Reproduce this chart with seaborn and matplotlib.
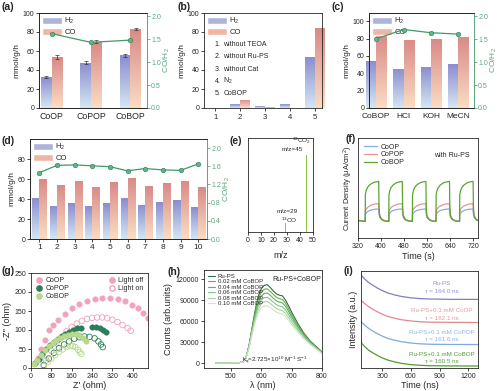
import numpy as np
import pandas as pd
import matplotlib
matplotlib.use("Agg")
import matplotlib.pyplot as plt
from matplotlib.colors import LinearSegmentedColormap
from matplotlib.patches import Patch
from matplotlib.lines import Line2D
import seaborn as sns

# ---------------- data ----------------
# (a) catalysts
cat_a = ["CoOP", "CoPOP", "CoBOP"]
h2_a = [32.4, 47.7, 55.7]
co_a = [53.3, 69.7, 83.0]
h2_err_a = [1.0, 1.6, 1.6]
co_err_a = [2.0, 1.5, 1.0]
ratio_a = [1.62, 1.43, 1.48]

# (b) control experiments
cat_b = ["1", "2", "3", "4", "5"]
h2_b = [0.0, 3.9, 1.8, 3.9, 53.7]
co_b = [0.0, 8.8, 0.7, 0.0, 83.9]
cond_b = ["without TEOA", "without Ru-PS", "without Cat", "N$_2$", "CoBOP"]

# (c) additives
cat_c = ["CoBOP", "HCl", "KOH", "MeCN"]
h2_c = [54.4, 45.2, 47.8, 50.6]
co_c = [84.3, 78.5, 79.3, 82.3]
ratio_c = [1.51, 1.71, 1.64, 1.61]

# (d) recycling
cyc_d = ["1", "2", "3", "4", "5", "6", "7", "8", "9", "10"]
h2_d = [41.5, 33.5, 36.0, 33.0, 36.0, 41.0, 34.5, 37.0, 39.0, 32.0]
co_d = [60.5, 54.0, 58.5, 52.5, 57.0, 61.5, 53.0, 56.0, 58.5, 52.0]
ratio_d = [1.46, 1.62, 1.63, 1.61, 1.59, 1.50, 1.55, 1.52, 1.51, 1.65]

# (e) isotope labelling
mz_e = [29, 45]
sig_e = [0.10, 0.82]

# (f) photocurrent, one on/off cycle repeated
on_f = [345, 427, 509, 591, 673]
t_cyc = [0, 0.5, 3, 8, 15, 25, 35, 47, 48, 50, 54, 60, 68, 81]
coop_cyc = [16.6, 23.3, 24.8, 26.3, 27.5, 28.3, 28.8, 29.0, 24.0, 21.0, 19.5, 18.0, 17.2, 16.8]
copop_cyc = [16.6, 26.6, 28.5, 30.5, 32.0, 33.3, 34.0, 34.3, 27.0, 23.0, 20.5, 18.5, 17.3, 16.8]
cobop_cyc = [16.6, 43.0, 47.0, 50.5, 53.0, 55.0, 56.0, 56.6, 32.0, 23.0, 19.5, 17.8, 17.0, 16.6]
lead_t = [320, 344]
lead_v = [17.5, 16.6]

# (g) Nyquist plots
coop_off_x = [27, 41, 54, 71, 85, 106, 132, 160, 190, 220, 250, 281, 311, 341, 370, 397, 421, 441, 459]
coop_off_y = [26, 51, 73, 99, 112, 126, 141, 158, 169, 176, 181, 183, 184, 182, 176, 167, 158, 145, 132]
coop_on_x = [60, 80, 100, 120, 140, 160, 180, 200, 220, 240, 260, 280, 300, 320, 340, 360, 380, 392]
coop_on_y = [20, 45, 65, 82, 97, 108, 117, 124, 129, 132, 133, 133, 131, 127, 121, 113, 105, 98]
copop_off_x = [15, 30, 45, 60, 75, 90, 105, 120, 135, 150, 165, 180, 195, 240, 255, 270, 283, 295]
copop_off_y = [12, 25, 37, 49, 60, 69, 77, 84, 90, 95, 100, 104, 106, 108, 108, 106, 101, 94]
copop_on_x = [50, 70, 90, 110, 130, 150, 170, 190, 210, 230, 250, 265, 275, 282]
copop_on_y = [8, 25, 40, 52, 62, 70, 77, 81, 83, 82, 78, 70, 62, 55]
cobop_off_x = [10, 25, 40, 55, 70, 85, 100, 115, 130, 145, 160, 175, 190, 205, 218]
cobop_off_y = [10, 22, 35, 47, 57, 66, 73, 79, 84, 87, 89, 89, 86, 80, 72]
cobop_on_x = [50, 65, 80, 95, 110, 125, 140, 155, 165, 175, 185, 192, 198]
cobop_on_y = [5, 15, 25, 34, 42, 49, 55, 58, 58, 55, 48, 42, 37]

# (h) emission quenching
wl_h = [450, 520, 540, 550, 560, 570, 580, 590, 600, 610, 620, 630, 640, 650,
        660, 670, 680, 690, 700, 720, 740, 760, 780, 800]
ru_h = [0, 200, 1500, 8000, 25000, 50000, 75000, 95000, 106000, 111000, 112000, 108000, 103000, 99000,
        97000, 96000, 90000, 82000, 73000, 57000, 43000, 32000, 24000, 16000]
c002_h = [0, 200, 1500, 7800, 24500, 48500, 72000, 90500, 101000, 105500, 106000, 102500, 98000, 94000,
          92000, 91000, 85500, 78000, 69500, 54500, 41500, 31000, 23000, 15500]
c004_h = [0, 200, 1400, 7600, 24000, 47000, 68500, 86000, 95500, 99500, 100000, 97000, 92500, 89000,
          87000, 86000, 81000, 74000, 66000, 52000, 40000, 30000, 22500, 15000]
c006_h = [0, 200, 1400, 7400, 23000, 45000, 65000, 81000, 90000, 93500, 94000, 91000, 87000, 83500,
          81500, 80500, 76000, 69500, 62500, 49500, 38000, 29000, 22000, 14500]
c008_h = [0, 200, 1300, 7200, 22000, 43000, 61500, 76000, 84500, 87500, 88000, 85000, 81500, 78000,
          76000, 75000, 71000, 65000, 58500, 47000, 36500, 28000, 21000, 14000]
c010_h = [0, 200, 1300, 7000, 21000, 41000, 58000, 71500, 79000, 82000, 82000, 79500, 76000, 73000,
          71000, 70000, 66500, 61000, 55000, 44500, 35000, 27000, 20500, 13500]
labels_h = ["Ru-PS", "0.02 mM CoBOP", "0.04 mM CoBOP", "0.06 mM CoBOP", "0.08 mM CoBOP", "0.10 mM CoBOP"]

# (i) TRPL decays (stacked)
t_i = [80, 90, 120, 160, 200, 250, 300, 360, 420, 500, 600, 700, 800, 1000, 1300]
ru_i = [25, 23.5, 20.5, 17.0, 14.5, 11.5, 9.0, 6.5, 4.8, 3.0, 1.6, 0.8, 0.4, 0.1, 0.0]
coop_i = [23, 21.5, 19.0, 16.0, 13.5, 10.8, 8.4, 6.1, 4.5, 2.8, 1.5, 0.7, 0.3, 0.1, 0.0]
copop_i = [24, 22.0, 19.5, 16.3, 13.8, 11.0, 8.6, 6.2, 4.6, 2.9, 1.5, 0.7, 0.3, 0.1, 0.0]
cobop_i = [25, 22.5, 19.5, 16.0, 13.5, 10.7, 8.3, 6.0, 4.4, 2.7, 1.4, 0.7, 0.3, 0.1, 0.0]
base_i = [69.3, 46.0, 23.7, 2.0]
names_i = ["Ru-PS", "Ru-PS+0.1 mM CoOP", "Ru-PS+0.1 mM CoPOP", "Ru-PS+0.1 mM CoBOP"]
taus_i = ["164.0", "162.1", "161.6", "160.5"]

# ---------------- style ----------------
sns.set_style("ticks")
plt.rcParams["font.family"] = ["Liberation Sans", "DejaVu Sans"]
plt.rcParams["mathtext.default"] = "regular"
plt.rcParams["axes.linewidth"] = 0.6
plt.rcParams["xtick.major.width"] = 0.6
plt.rcParams["ytick.major.width"] = 0.6
plt.rcParams["xtick.major.size"] = 2
plt.rcParams["ytick.major.size"] = 2
plt.rcParams["xtick.major.pad"] = 1.5
plt.rcParams["ytick.major.pad"] = 1.5
plt.rcParams["axes.labelpad"] = 2

H2_TOP, H2_BOT = "#8b8dcf", "#d4e6f3"
CO_TOP, CO_BOT = "#d98a88", "#fbdcc2"
GREEN = "#3f9a6d"
GTICK = "#5aa67e"

W, H = 500, 391
fig = plt.figure(figsize=(5, 3.91), dpi=100)


def px_axes(l, t, r, b):
    return fig.add_axes([l / W, 1 - b / H, (r - l) / W, (b - t) / H])


def gradient(ax, bars, top, bottom):
    cmap = LinearSegmentedColormap.from_list("g", [bottom, top])
    for p in bars:
        x, y, w, h = p.get_x(), p.get_y(), p.get_width(), p.get_height()
        if h <= 0:
            continue
        im = ax.imshow(np.linspace(0, 1, 64).reshape(-1, 1), cmap=cmap, origin="lower",
                       extent=[x, x + w, y, y + h], aspect="auto", zorder=2)
        im.set_clip_path(p)
        p.set_facecolor("none")
        p.set_edgecolor("none")


def bar_panel(ax, cats, h2, co, width):
    df = pd.DataFrame({"cat": cats * 2, "val": h2 + co,
                       "gas": ["H2"] * len(cats) + ["CO"] * len(cats)})
    sns.barplot(data=df, x="cat", y="val", hue="gas", ax=ax, width=width,
                legend=False, errorbar=None, saturation=1)
    gradient(ax, ax.containers[0], H2_TOP, H2_BOT)
    gradient(ax, ax.containers[1], CO_TOP, CO_BOT)
    ax.set_xlabel("")
    ax.set_ylabel("mmol/g/h", fontsize=6, labelpad=1.5)
    handles = [Patch(fc="#aeb3de", label="H$_2$"), Patch(fc="#efb5a6", label="CO")]
    ax.legend(handles=handles, loc="upper left", frameon=False, fontsize=5.5,
              handlelength=2.6, handleheight=0.9, labelspacing=0.25,
              handletextpad=0.3, borderaxespad=0.2, borderpad=0.2)
    ax.tick_params(axis="y", labelsize=5)


def ratio_axis(ax, ratio, ylim, ticks, labels):
    ax2 = ax.twinx()
    sns.lineplot(x=np.arange(len(ratio)), y=ratio, ax=ax2, color=GREEN, marker="o",
                 markersize=3.3, lw=0.9, markeredgecolor="#2f7d57", markeredgewidth=0.4,
                 markerfacecolor="#5db58a")
    ax2.set_ylim(*ylim)
    ax2.set_yticks(ticks)
    ax2.set_yticklabels(labels)
    ax2.set_ylabel("CO/H$_2$", color=GTICK, fontsize=6, labelpad=0.5)
    ax2.tick_params(axis="y", colors=GTICK, labelsize=5, pad=1)
    ax2.spines["right"].set_color(GTICK)
    ax.spines["right"].set_color(GTICK)
    return ax2


# ---------------- (a) ----------------
ax = px_axes(39, 13, 147, 108)
bar_panel(ax, cat_a, h2_a, co_a, 0.55)
xc_h = [p.get_x() + p.get_width() / 2 for p in ax.containers[0]]
xc_c = [p.get_x() + p.get_width() / 2 for p in ax.containers[1]]
ax.errorbar(xc_h, h2_a, yerr=h2_err_a, fmt="none", ecolor="#333333", elinewidth=0.5, capsize=1.2, capthick=0.5, zorder=4)
ax.errorbar(xc_c, co_a, yerr=co_err_a, fmt="none", ecolor="#333333", elinewidth=0.5, capsize=1.2, capthick=0.5, zorder=4)
ratio_axis(ax, ratio_a, (0, 2.07), [0, 0.5, 1.0, 1.5, 2.0], ["0.0", "0.5", "1.0", "1.5", "2.0"])
ax.set_xlim(-0.32, 2.42)
ax.set_ylim(0, 100)
ax.set_yticks([0, 20, 40, 60, 80, 100])
ax.tick_params(axis="x", labelsize=6.3, length=0, pad=3)

# ---------------- (b) ----------------
ax = px_axes(204, 13, 322, 108)
bar_panel(ax, cat_b, h2_b, co_b, 0.8)
ax.set_xlim(-0.46, 4.3)
ax.set_ylim(0, 100)
ax.set_yticks([0, 20, 40, 60, 80, 100])
ax.tick_params(axis="x", labelsize=5.5, length=2, pad=2.5)
for i, c in enumerate(cond_b):
    yy = 0.67 - i * 0.13
    ax.text(0.09, yy, f"{i + 1}.", transform=ax.transAxes, fontsize=5, va="center")
    ax.text(0.165, yy, c, transform=ax.transAxes, fontsize=5, va="center")

# ---------------- (c) ----------------
ax = px_axes(369, 13, 474, 108)
bar_panel(ax, cat_c, h2_c, co_c, 0.75)
ratio_axis(ax, ratio_c, (0, 2.07), [0, 0.5, 1.0, 1.5, 2.0], ["0.0", "0.5", "1.0", "1.5", "2.0"])
ax.set_xlim(-0.27, 3.58)
ax.set_ylim(0, 109.5)
ax.set_yticks([0, 20, 40, 60, 80, 100])
ax.tick_params(axis="x", labelsize=6, length=0, pad=3.5)

# ---------------- (d) ----------------
ax = px_axes(30, 139, 207, 239)
bar_panel(ax, cyc_d, h2_d, co_d, 0.8)
ratio_axis(ax, ratio_d, (0, 2.2), [0, 0.4, 0.8, 1.2, 1.6, 2.0], ["0.0", "0.4", "0.8", "1.2", "1.6", "2.0"])
ax.set_xlim(-0.53, 9.5)
ax.set_ylim(0, 100)
ax.set_yticks([0, 20, 40, 60, 80])
ax.tick_params(axis="x", labelsize=6, length=2)

# ---------------- (e) ----------------
ax = px_axes(248, 138, 313, 232)
sns.histplot(x=mz_e, weights=sig_e, discrete=True, shrink=1.0, ax=ax, color="#8cc63f",
             alpha=1, edgecolor="none", linewidth=0)
ax.set_xlim(0, 50)
ax.set_ylim(0, 1)
ax.set_xticks([0, 10, 20, 30, 40, 50])
ax.set_yticks([])
ax.set_ylabel("")
ax.tick_params(axis="x", labelsize=5, length=2)
ax.set_xlabel("m/z", fontsize=6.5, labelpad=5)
ax.text(41.5, 0.97, "$^{13}$CO$_2$", fontsize=4.6, ha="center", va="center")
ax.text(34, 0.875, "m/z=45", fontsize=4.6, ha="center", va="center")
ax.text(30, 0.215, "m/z=29", fontsize=4.6, ha="center", va="center")
ax.text(31.5, 0.125, "$^{13}$CO", fontsize=4.6, ha="center", va="center")

# ---------------- (f) ----------------
ax = px_axes(358, 138, 478, 238)
t_f = lead_t + [t0 + d for t0 in on_f for d in t_cyc]
for name, cyc, col in [("CoOP", coop_cyc, "#7fb0e0"), ("CoPOP", copop_cyc, "#e59593"),
                       ("CoBOP", cobop_cyc, "#5ba530")]:
    v = lead_v + cyc * len(on_f)
    sns.lineplot(x=t_f, y=v, ax=ax, color=col, lw=0.9, label=name, sort=False)
ax.set_xlim(320, 737)
ax.set_ylim(0, 100)
ax.set_xticks([320, 400, 480, 560, 640, 720])
ax.set_yticks([])
ax.tick_params(axis="x", labelsize=5)
ax.set_xlabel("Time (s)", fontsize=6.5, labelpad=1.5)
ax.set_ylabel("Current Density (μA/cm$^2$)", fontsize=5.4, labelpad=2)
ax.legend(loc="upper left", frameon=False, fontsize=5, handlelength=2.0,
          labelspacing=0.1, borderaxespad=0.4, handletextpad=0.4)
ax.text(0.78, 0.83, "with Ru-PS", transform=ax.transAxes, fontsize=5, ha="center", va="center")

# ---------------- (g) ----------------
ax = px_axes(31, 273, 148, 368)
gcols = {"CoOP": "#f2a3bb", "CoPOP": "#2e7d5a", "CoBOP": "#b6d98a"}
sets_g = [("CoOP", coop_off_x, coop_off_y, coop_on_x, coop_on_y),
          ("CoPOP", copop_off_x, copop_off_y, copop_on_x, copop_on_y),
          ("CoBOP", cobop_off_x, cobop_off_y, cobop_on_x, cobop_on_y)]
for name, xo, yo, xn, yn in sets_g:
    c = gcols[name]
    sns.scatterplot(x=xn, y=yn, ax=ax, s=16, marker="o", facecolor="none",
                    edgecolor=c, linewidth=0.6, legend=False)
    sns.scatterplot(x=xo, y=yo, ax=ax, s=16, marker="o", color=c,
                    edgecolor=c, linewidth=0.3, legend=False)
ax.set_xlim(0, 460)
ax.set_ylim(0, 250)
ax.set_xticks([0, 80, 160, 240, 320, 400])
ax.set_yticks([0, 50, 100, 150, 200, 250])
ax.tick_params(labelsize=5)
ax.set_xlabel("Z' (ohm)", fontsize=6.5, labelpad=1)
ax.set_ylabel("-Z'' (ohm)", fontsize=6.5)
h1 = [Line2D([], [], ls="", marker="o", ms=3.8, color=gcols[k], label=k) for k in gcols]
leg1 = ax.legend(handles=h1, loc="upper left", frameon=False, fontsize=5, handlelength=1.0,
                 labelspacing=0.15, borderaxespad=0.2, handletextpad=0.5)
ax.add_artist(leg1)
h2 = [Line2D([], [], ls="", marker="o", ms=3.8, color=gcols["CoOP"], label="Light off"),
      Line2D([], [], ls="", marker="o", ms=3.8, mfc="none", mec=gcols["CoOP"], label="Light on")]
ax.legend(handles=h2, loc="upper right", frameon=False, fontsize=5, handlelength=1.0,
          labelspacing=0.15, borderaxespad=0.2, handletextpad=0.5)

# ---------------- (h) ----------------
ax = px_axes(204, 270, 322, 368)
hcols = ["#2c6b3c", "#7ba54a", "#5cae6a", "#80c58c", "#aad49b", "#cfe6c4"]
for lab, vals, col in zip(labels_h, [ru_h, c002_h, c004_h, c006_h, c008_h, c010_h], hcols):
    sns.lineplot(x=wl_h, y=vals, ax=ax, color=col, lw=0.8, label=lab)
ax.set_xlim(412, 800)
ax.set_ylim(-7000, 133000)
ax.set_xticks([500, 600, 700, 800])
ax.set_yticks([0, 30000, 60000, 90000, 120000])
ax.tick_params(labelsize=5)
ax.set_xlabel("λ (nm)", fontsize=6.5, labelpad=1)
ax.set_ylabel("Counts (arb.units)", fontsize=6.5)
ax.legend(loc="upper left", frameon=False, fontsize=4.3, handlelength=1.3,
          labelspacing=0.05, borderaxespad=0.2, handletextpad=0.4)
ax.text(0.79, 0.9, "Ru-PS+CoBOP", transform=ax.transAxes, fontsize=5, ha="center", va="center")
ax.text(0.6, 0.08, "k$_q$=2.725×10$^{10}$ M$^{-1}$ S$^{-1}$", transform=ax.transAxes,
        fontsize=4.5, ha="center", va="center")

# ---------------- (i) ----------------
ax = px_axes(361, 271, 478, 368)
icols = ["#7d7fc4", "#df8a8a", "#7eaadb", "#4f9d36"]
tcols = ["#8f91cf", "#e29a9a", "#8fb4de", "#4f9d36"]
for vals, b, col in zip([ru_i, coop_i, copop_i, cobop_i], base_i, icols):
    sns.lineplot(x=t_i, y=[b + v for v in vals], ax=ax, color=col, lw=0.9)
ax.set_xlim(80, 1300)
ax.set_ylim(0, 98)
ax.set_xticks([300, 600, 900, 1200])
ax.set_yticks([])
ax.tick_params(labelsize=5)
ax.set_xlabel("Time (ns)", fontsize=6.5, labelpad=1)
ax.set_ylabel("Intensity (a.u.)", fontsize=6.5)
ty = [(0.87, 0.79), (0.59, 0.51), (0.37, 0.29), (0.14, 0.07)]
for (y1, y2), nm, tau, col in zip(ty, names_i, taus_i, tcols):
    ax.text(0.69, y1, nm, transform=ax.transAxes, fontsize=4.5, ha="center", va="center", color=col)
    ax.text(0.69, y2, f"τ = {tau} ns", transform=ax.transAxes, fontsize=4.5, ha="center", va="center", color=col)

# panel letters
for lab, x, y in [("(a)", 2, 7), ("(b)", 178, 7), ("(c)", 332, 7),
                  ("(d)", 2, 141), ("(e)", 230, 141), ("(f)", 346, 139),
                  ("(g)", 1, 271), ("(h)", 167, 272), ("(i)", 344, 271)]:
    fig.text(x / W, 1 - y / H, lab, fontsize=7.6, fontweight="bold", ha="left", va="center")

fig.savefig("out.png", dpi=100)
